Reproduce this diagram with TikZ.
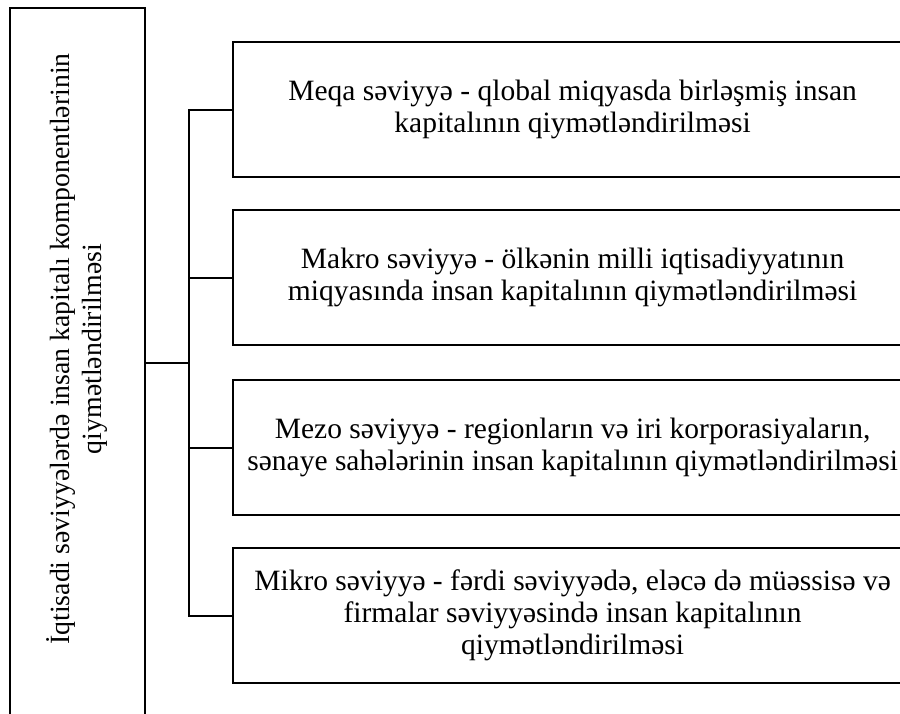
\documentclass[tikz,border=0pt]{standalone}
\usepackage{fontspec}
\setmainfont{Liberation Serif}
\usetikzlibrary{calc}
\begin{document}
\begin{tikzpicture}[x=1pt,y=-1pt,
  lvlbox/.style={draw=black, line width=2.2pt, anchor=north west, minimum width=679pt, minimum height=135pt, inner sep=0pt, align=center, font=\fontsize{29.5}{32}\selectfont},
  conn/.style={draw=black, line width=2.2pt},
  sidetext/.style={rotate=90, align=center, font=\fontsize{27.8}{32}\selectfont}]
\useasboundingbox (0,0) rectangle (900,713);
\begin{scope}
\clip (0,0) rectangle (900,713);
\node[draw=black, line width=2.2pt, anchor=north west, minimum width=135pt, minimum height=730pt, inner sep=0pt] (left) at (9,7) {};
\node[sidetext] (lefttext) at (77,349) {İqtisadi səviyyələrdə insan kapitalı komponentlərinin\\qiymətləndirilməsi};
\node[lvlbox] (b1) at (232,41) {Meqa səviyyə - qlobal miqyasda birləşmiş insan\\kapitalının qiymətləndirilməsi};
\node[lvlbox] (b2) at (232,209) {Makro səviyyə - ölkənin milli iqtisadiyyatının\\miqyasında insan kapitalının qiymətləndirilməsi};
\node[lvlbox] (b3) at (232,379) {Mezo səviyyə - regionların və iri korporasiyaların,\\sənaye sahələrinin insan kapitalının qiymətləndirilməsi};
\node[lvlbox] (b4) at (232,547) {Mikro səviyyə - fərdi səviyyədə, eləcə də müəssisə və\\firmalar səviyyəsində insan kapitalının\\qiymətləndirilməsi};
\coordinate (tx) at (189,0);
\draw[conn] (b1.west) -| (tx |- b4.west) -- (b4.west);
\draw[conn] (b2.west) -- (tx |- b2.west);
\draw[conn] (b3.west) -- (tx |- b3.west);
\coordinate (mid) at ($(tx |- b1.west)!0.5!(tx |- b4.west)$);
\draw[conn] (mid) -- (left.east |- mid);
\end{scope}
\end{tikzpicture}
\end{document}
